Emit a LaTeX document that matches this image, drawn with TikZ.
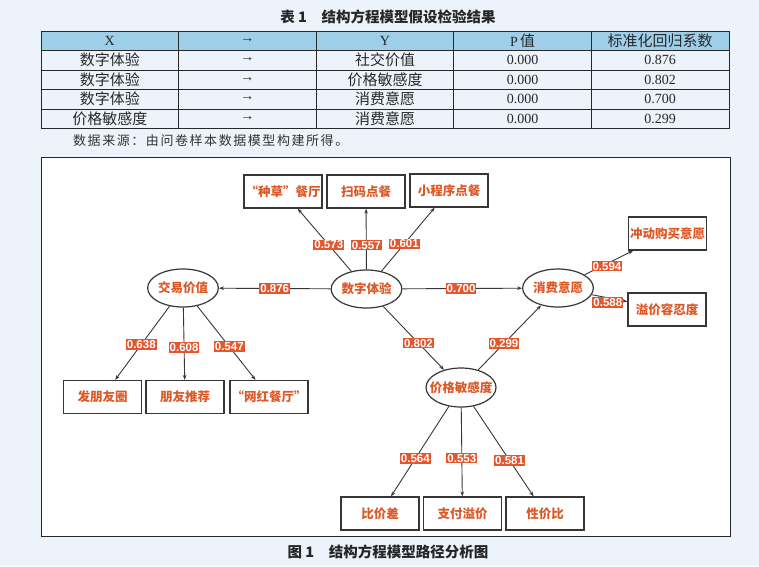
\documentclass[tikz,border=0pt]{standalone}
\usepackage{fontspec}
\setmainfont{Liberation Serif}
\newfontfamily\cjk{Noto Sans CJK SC}
\newfontfamily\cjksp[LetterSpace=12]{Noto Sans CJK SC}
\newfontfamily\labsans{Liberation Sans}
\usetikzlibrary{arrows.meta,shapes.geometric}
\definecolor{bg}{RGB}{237,243,251}
\definecolor{hdr}{RGB}{158,206,232}
\definecolor{lab}{RGB}{228,86,44}
\definecolor{txt}{RGB}{222,88,38}
\definecolor{ln}{RGB}{55,55,55}
\definecolor{tbl}{RGB}{40,40,40}
\begin{document}
\begin{tikzpicture}[x=1pt,y=-1pt,
  box/.style={draw=ln, line width=1.2pt, fill=white, minimum width=78pt, minimum height=33pt, inner sep=0pt, font=\cjk\bfseries\fontsize{12.5}{12.5}\selectfont, text=txt},
  oval/.style={ellipse, draw=ln, line width=1.2pt, fill=white, minimum width=69pt, minimum height=38pt, inner sep=0pt, font=\cjk\bfseries\fontsize{12.5}{12.5}\selectfont, text=txt},
  val/.style={fill=lab, text=white, font=\labsans\bfseries\fontsize{11.5}{11.5}\selectfont, inner xsep=1pt, inner ysep=0.8pt, minimum height=10.5pt},
  arr/.style={draw=ln, line width=0.9pt, -{Stealth[length=5pt,width=3.6pt]}},
  cell/.style={font=\fontsize{14}{14}\selectfont, inner sep=0pt, text=tbl},
  ccell/.style={font=\cjk\fontsize{15}{15}\selectfont, inner sep=0pt, text=tbl},
  ttl/.style={font=\cjk\bfseries\fontsize{14.5}{14.5}\selectfont, inner sep=0pt, text=black!85},
]
\fill[bg] (0,0) rectangle (759,566);
\useasboundingbox (0,0) rectangle (759,566);

% title
\node[ttl] (title) at (388,17) {表 1\hspace{1em}结构方程模型假设检验结果};

% table
\fill[hdr] (41,31) rectangle (729,50);
\draw[tbl, line width=0.8pt] (41,31) rectangle (729,128);
\foreach \yy in {50,70,89,109} \draw[tbl, line width=0.7pt] (41,\yy) -- (729,\yy);
\foreach \xx in {178.6,316.2,453.8,591.4} \draw[tbl, line width=0.7pt] (\xx,31) -- (\xx,128);

\node[cell] (h1) at (109.8,40.5) {X};
\node[cell] (h2) at (247.4,40.5) {→};
\node[cell] (h3) at (385,40.5) {Y};
\node[cell] (h4) at (522.6,40.5) {P\,{\cjk\fontsize{15}{15}\selectfont 值}};
\node[ccell] (h5) at (660.2,40.5) {标准化回归系数};

\node[ccell] (a1) at (109.8,60) {数字体验};
\node[cell] (b1) at (247.4,60) {→};
\node[ccell] (c1) at (385,60) {社交价值};
\node[cell] (d1) at (522.6,60) {0.000};
\node[cell] (e1) at (660.2,60) {0.876};

\node[ccell] (a2) at (109.8,79.5) {数字体验};
\node[cell] (b2) at (247.4,79.5) {→};
\node[ccell] (c2) at (385,79.5) {价格敏感度};
\node[cell] (d2) at (522.6,79.5) {0.000};
\node[cell] (e2) at (660.2,79.5) {0.802};

\node[ccell] (a3) at (109.8,99) {数字体验};
\node[cell] (b3) at (247.4,99) {→};
\node[ccell] (c3) at (385,99) {消费意愿};
\node[cell] (d3) at (522.6,99) {0.000};
\node[cell] (e3) at (660.2,99) {0.700};

\node[ccell] (a4) at (109.8,118.5) {价格敏感度};
\node[cell] (b4) at (247.4,118.5) {→};
\node[ccell] (c4) at (385,118.5) {消费意愿};
\node[cell] (d4) at (522.6,118.5) {0.000};
\node[cell] (e4) at (660.2,118.5) {0.299};

\node[anchor=west, inner sep=0pt, font=\cjksp\fontsize{13}{13}\selectfont, text=black!80] (note) at (73,141) {数据来源：由问卷样本数据模型构建所得。};

% diagram frame
\draw[fill=white, draw=black!85, line width=1pt] (41,157) rectangle (730,536);

% nodes
\node[box] (zc) at (283,191.5) {“种草”餐厅};
\node[box] (sm) at (366,191.5) {扫码点餐};
\node[box] (xcx) at (449,190.5) {小程序点餐};
\node[oval] (jy) at (183,288) {交易价值};
\node[oval] (sz) at (366.5,289) {数字体验};
\node[oval] (xf) at (558,288) {消费意愿};
\node[box] (cd) at (667.5,233.5) {冲动购买意愿};
\node[box] (yj) at (667,309.5) {溢价容忍度};
\node[oval, inner xsep=-6.5pt, minimum width=70pt, minimum height=39pt] (jg) at (461,387.5) {价格敏感度};
\node[box] (fp) at (102.5,397) {发朋友圈};
\node[box] (py) at (185,397) {朋友推荐};
\node[box] (wh) at (269,397) {“网红餐厅”};
\node[box] (bj) at (380,513.5) {比价差};
\node[box] (zf) at (462.5,513.5) {支付溢价};
\node[box] (xj) at (545,513.5) {性价比};

% connectors
\draw[arr] (sz) -- node[val, pos=0.42] (l1) {0.573} (zc);
\draw[arr] (sz) -- node[val, pos=0.40] (l2) {0.557} (sm);
\draw[arr] (sz) -- node[val, pos=0.43] (l3) {0.601} (xcx);
\draw[arr] (sz) -- node[val, pos=0.50] (l4) {0.876} (jy);
\draw[arr] (sz) -- node[val, pos=0.49] (l5) {0.700} (xf);
\draw[arr] (sz) -- node[val, pos=0.58] (l6) {0.802} (jg);
\draw[arr] (jg) -- node[val, pos=0.41] (l7) {0.299} (xf);
\draw[arr] (xf) -- node[val, pos=0.46, yshift=-2.5pt] (l8) {0.594} (cd);
\draw[arr] (xf) -- node[val, pos=0.45, yshift=-4.5pt] (l9) {0.588} (yj);
\draw[arr] (jy) -- node[val, pos=0.52] (l10) {0.638} (fp);
\draw[arr] (jy) -- node[val, pos=0.55] (l11) {0.608} (py);
\draw[arr] (jy) -- node[val, pos=0.55] (l12) {0.547} (wh);
\draw[arr] (jg) -- node[val, pos=0.58] (l13) {0.564} (bj);
\draw[arr] (jg) -- node[val, pos=0.57] (l14) {0.553} (zf);
\draw[arr] (jg) -- node[val, pos=0.60] (l15) {0.581} (xj);

% caption
\node[ttl] (cap) at (388,552) {图 1\hspace{1em}结构方程模型路径分析图};
\end{tikzpicture}
\end{document}
